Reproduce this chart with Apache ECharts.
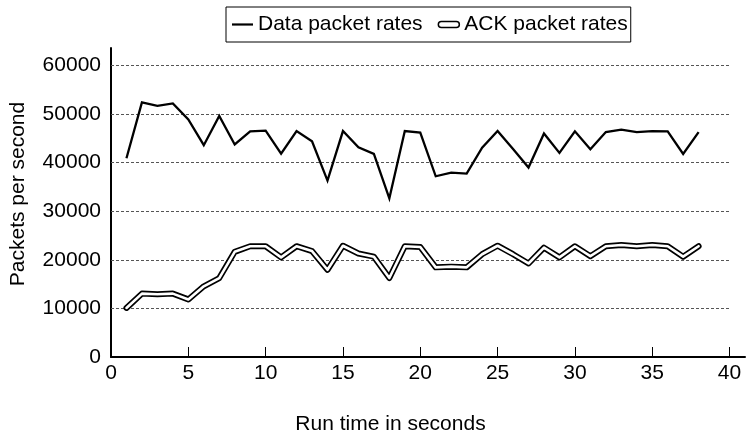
<!DOCTYPE html>
<html>
<head>
<meta charset="utf-8">
<script src="https://cdn.jsdelivr.net/npm/echarts@6/dist/echarts.min.js"></script>
<style>
html,body{margin:0;padding:0;background:#fff;}
#chart{width:746px;height:440px;}
</style>
</head>
<body>
<div id="chart"></div>
<script>
var runTimes = [1,2,3,4,5,6,7,8,9,10,11,12,13,14,15,16,17,18,19,20,21,22,23,24,25,26,27,28,29,30,31,32,33,34,35,36,37,38];
var dataRates = [40900,52400,51700,52200,48900,43600,49600,43750,46450,46600,41850,46500,44400,36300,46500,43150,41800,32650,46500,46200,37200,37950,37750,43100,46500,42800,39000,46000,42000,46450,42750,46300,46800,46300,46500,46450,41800,46300];
var ackRates = [10100,13050,12900,13050,11850,14550,16250,21650,22800,22800,20500,22800,21800,17950,22900,21300,20650,16250,22800,22650,18450,18600,18450,21150,22900,21150,19250,22500,20500,22800,20750,22800,23050,22800,23050,22800,20650,22800];
var xTicks = [0,5,10,15,20,25,30,35,40];
var yTicks = [0,10000,20000,30000,40000,50000,60000];
var gridValues = [10000,20000,30000,40000,50000,60000];

function pairs(xs, ys){ return xs.map(function(x,i){ return [x, ys[i]]; }); }

var FONT = 'Liberation Sans, Arial, sans-serif';
var chart = echarts.init(document.getElementById('chart'), null, {renderer:'canvas'});
chart.setOption({
  animation: false,
  backgroundColor: '#fff',
  textStyle: {fontFamily: FONT, color: '#000'},
  grid: {left: 110, right: 1, top: 48, bottom: 78, containLabel: false},
  legend: {
    left: 226, top: 7,
    padding: [6, 3, 6, 6],
    borderColor: '#000', borderWidth: 1,
    itemWidth: 21, itemHeight: 6, itemGap: 15,
    textStyle: {fontFamily: FONT, fontSize: 21, color: '#000', lineHeight: 23},
    data: [
      {name: 'Data packet rates', icon: 'path://M0,0H21V2.2H0Z', itemStyle: {color: '#000', borderWidth: 0}},
      {name: 'ACK packet rates', icon: 'path://M3,0H18A3,3,0,0,1,18,6H3A3,3,0,0,1,3,0Z', itemStyle: {color: '#fff', borderColor: '#000', borderWidth: 1.5}}
    ],
    selectedMode: false
  },
  xAxis: {
    type: 'value', min: 0, max: 41, interval: 5,
    name: 'Run time in seconds', nameLocation: 'middle', nameGap: 57,
    nameTextStyle: {fontFamily: FONT, fontSize: 21, color: '#000', padding: [0, 75, 0, 0]},
    axisLine: {show: true, onZero: false, lineStyle: {color: '#000', width: 2}},
    axisTick: {show: true, inside: true, length: 10, customValues: xTicks, lineStyle: {color: '#000', width: 1}},
    axisLabel: {customValues: xTicks, fontFamily: FONT, fontSize: 21, color: '#000', margin: 6,
      formatter: function(v){ return String(v); }},
    splitLine: {show: false}
  },
  yAxis: {
    type: 'value', min: 0, max: 63600, interval: 10000,
    name: 'Packets per second', nameLocation: 'middle', nameGap: 82,
    nameTextStyle: {fontFamily: FONT, fontSize: 21, color: '#000', padding: [0, 0, 0, 17]},
    axisLine: {show: true, lineStyle: {color: '#000', width: 2}},
    axisTick: {show: false},
    axisLabel: {customValues: yTicks, fontFamily: FONT, fontSize: 21, color: '#000', margin: 10,
      formatter: function(v){ return String(v); }},
    splitLine: {show: false}
  },
  series: [
    {
      name: 'grid', type: 'line', data: [], z: 1, silent: true,
      markLine: {
        silent: true, symbol: 'none', z: 1, label: {show: false},
        lineStyle: {color: '#555', width: 1, type: [3, 2]},
        emphasis: {disabled: true},
        data: gridValues.map(function(v){ return [{coord: [0, v]}, {coord: [40, v]}]; })
      }
    },
    {
      name: 'Data packet rates', type: 'line', symbol: 'none', z: 3,
      data: pairs(runTimes, dataRates),
      lineStyle: {color: '#000', width: 2.3, join: 'miter'},
      itemStyle: {color: '#000'}
    },
    {
      name: 'ACK packet rates', type: 'line', symbol: 'none', z: 3,
      data: pairs(runTimes, ackRates),
      lineStyle: {color: '#000', width: 6, join: 'round', cap: 'round'},
      itemStyle: {color: '#000'}
    },
    {
      name: 'ACK inner', type: 'line', symbol: 'none', z: 4,
      data: pairs(runTimes, ackRates),
      lineStyle: {color: '#fff', width: 2.6, join: 'round', cap: 'round'},
      itemStyle: {color: '#fff'}
    }
  ]
});
</script>
</body>
</html>
